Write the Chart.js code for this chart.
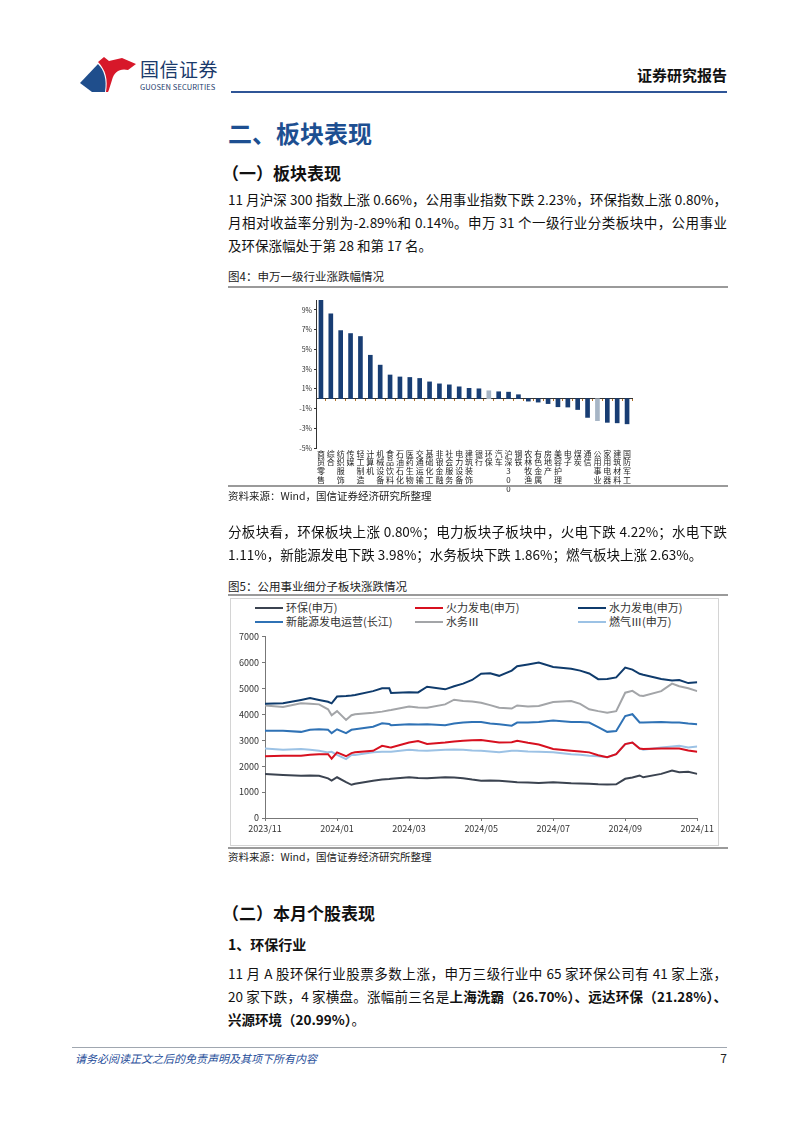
<!DOCTYPE html>
<html lang="zh-CN">
<head>
<meta charset="utf-8">
<title>二、板块表现</title>
<script src="https://cdn.jsdelivr.net/npm/chart.js@4.4.1/dist/chart.umd.min.js"></script>
<style>
  html, body { margin: 0; padding: 0; background: #fff; }
  body { width: 802px; height: 1133px; position: relative; overflow: hidden;
         font-family: "Noto Sans CJK SC", "Noto Sans", sans-serif; color: #111; }
  .abs { position: absolute; }
  .txt { position: absolute; left: 228px; width: 499px; font-size: 13.5px; line-height: 23px; height: 23px; }
  .just { text-align: justify; text-align-last: justify; }
  .cap { position: absolute; left: 228px; font-size: 11.5px; line-height: 14px; color: #222; }
  .src { position: absolute; left: 228px; font-size: 10.5px; line-height: 14px; color: #222; }
  .rule { position: absolute; left: 228px; width: 500px; background: #9a9a9a; }
  .legend-item { position: absolute; font-size: 11px; line-height: 14px; color: #333; white-space: nowrap; }
  .legend-item i { display: inline-block; width: 28px; height: 2.5px; vertical-align: middle; margin-right: 3px; margin-top: -2px; }
</style>
</head>
<body>

<!-- header -->
<svg class="abs" style="left:78px;top:55px" width="62" height="40" viewBox="0 0 62 40">
  <path d="M2 28 L20 9 C26 15 29 24 27 37 L14 37 Z" fill="#1f4e8c"/>
  <path d="M20 7 L26 2 L31 6 L44 3 L58 9 L50 15 C42 13 36 17 34 25 C32 31 31 35 30 37 L28 37 C30 25 28 15 20 7 Z" fill="#d7182a"/>
</svg>
<div class="abs" style="left:140px;top:58px;font-size:19px;line-height:22px;color:#1b3a6b;letter-spacing:0.5px;">国信证券</div>
<div class="abs" style="left:140px;top:82px;font-size:7.5px;line-height:9px;color:#1b3a6b;letter-spacing:0.1px;">GUOSEN SECURITIES</div>
<div class="abs" style="right:75px;top:65px;font-size:15px;line-height:20px;font-weight:bold;color:#111;">证券研究报告</div>
<div class="abs" style="left:231px;top:91px;width:496px;height:2px;background:#2f5597;"></div>

<!-- section 1 -->
<div class="abs" style="left:228px;top:116px;font-size:24px;line-height:34px;font-weight:bold;color:#1d4f91;">二、板块表现</div>
<div class="abs" style="left:222px;top:161px;font-size:17px;line-height:24px;font-weight:bold;">（一）板块表现</div>
<div class="txt just" style="top:187.5px">11 月沪深 300 指数上涨 0.66%，公用事业指数下跌 2.23%，环保指数上涨 0.80%，</div>
<div class="txt just" style="top:210.5px">月相对收益率分别为-2.89%和 0.14%。申万 31 个一级行业分类板块中，公用事业</div>
<div class="txt" style="top:233.5px">及环保涨幅处于第 28 和第 17 名。</div>

<div class="cap" style="top:269px">图4：申万一级行业涨跌幅情况</div>
<div class="rule" style="top:286px;height:2px"></div>
<div class="abs" style="left:290px;top:293px;width:350px;height:205px;">
  <canvas id="barChart"></canvas>
</div>
<div class="rule" style="top:485px;height:1.5px"></div>
<div class="src" style="top:489px">资料来源：Wind，国信证券经济研究所整理</div>

<div class="txt just" style="top:519.5px">分板块看，环保板块上涨 0.80%；电力板块子板块中，火电下跌 4.22%；水电下跌</div>
<div class="txt" style="top:542.5px">1.11%，新能源发电下跌 3.98%；水务板块下跌 1.86%；燃气板块上涨 2.63%。</div>

<div class="cap" style="top:579px">图5：公用事业细分子板块涨跌情况</div>
<div class="rule" style="top:594px;height:2px"></div>
<div class="abs" style="left:230px;top:598px;width:487px;height:246px;border:1px solid #d4d4d4;"></div>
<div id="lineLegend"></div>
<div class="abs" style="left:232px;top:628px;width:484px;height:214px;">
  <canvas id="lineChart"></canvas>
</div>
<div class="rule" style="top:847px;height:1.5px"></div>
<div class="src" style="top:850px">资料来源：Wind，国信证券经济研究所整理</div>

<!-- section 2 -->
<div class="abs" style="left:222px;top:901px;font-size:17px;line-height:24px;font-weight:bold;">（二）本月个股表现</div>
<div class="abs" style="left:228px;top:933px;font-size:14px;line-height:22px;font-weight:bold;">1、环保行业</div>
<div class="txt just" style="top:961.5px">11 月 A 股环保行业股票多数上涨，申万三级行业中 65 家环保公司有 41 家上涨，</div>
<div class="txt just" style="top:984.5px">20 家下跌，4 家横盘。涨幅前三名是<b>上海洗霸（26.70%）、远达环保（21.28%）、</b></div>
<div class="txt" style="top:1007.5px"><b>兴源环境（20.99%）</b>。</div>

<!-- footer -->
<div class="abs" style="left:72px;top:1047px;width:655px;height:1px;background:#a0a7b0;"></div>
<div class="abs" style="left:75px;top:1051px;font-size:11px;line-height:14px;font-style:italic;color:#1f4e9a;">请务必阅读正文之后的免责声明及其项下所有内容</div>
<div class="abs" style="right:75px;top:1050px;font-size:12px;line-height:16px;color:#222;">7</div>

<script>
// ---- 图4 申万一级行业涨跌幅 (%) ----
const industries = ["商贸零售", "综合", "纺织服饰", "传媒", "轻工制造", "计算机", "机械设备", "食品饮料",
  "石油石化", "医药生物", "交通运输", "基础化工", "非银金融", "社会服务", "电力设备", "建筑装饰",
  "银行", "环保", "汽车", "沪深300", "钢铁", "农林牧渔", "有色金属", "房地产", "美容护理", "电子",
  "煤炭", "通信", "公用事业", "家用电器", "建筑材料", "国防军工"];
const changes = [10.0, 8.6, 6.9, 6.6, 6.3, 4.4, 3.4, 2.4, 2.2, 2.15, 2.05, 1.7, 1.5, 1.4, 1.2, 1.05,
  1.0, 0.80, 0.7, 0.66, 0.4, -0.25, -0.35, -0.5, -0.82, -0.85, -1.1, -1.9, -2.23, -2.4, -2.45, -2.55];
const highlighted = ["环保", "公用事业"];
const barTicks = [-5, -3, -1, 1, 3, 5, 7, 9];

// ---- 图5 公用事业细分子板块指数 ----
// x: months since 2023/11
const monthPos = [0, 0.5, 1, 1.25, 1.5, 1.75, 1.85, 2, 2.25, 2.4, 2.5, 3, 3.25, 3.45, 3.5, 4, 4.25, 4.5,
  5, 5.25, 5.5, 5.75, 6, 6.25, 6.5, 6.85, 7, 7.3, 7.6, 8, 8.5, 8.75, 9, 9.25, 9.5, 9.75, 10, 10.2,
  10.4, 10.5, 11, 11.3, 11.5, 11.75, 12];
const dateTicks = ["2023/11", "2024/01", "2024/03", "2024/05", "2024/07", "2024/09", "2024/11"];
const huanbao = [1700, 1660, 1630, 1640, 1630, 1530, 1440, 1570, 1380, 1280, 1320, 1440, 1480, 1500, 1510,
  1570, 1540, 1530, 1570, 1560, 1530, 1480, 1440, 1450, 1440, 1400, 1380, 1370, 1350, 1380, 1340, 1330,
  1320, 1300, 1290, 1300, 1510, 1560, 1640, 1570, 1700, 1830, 1760, 1780, 1700];
const huoli = [2380, 2400, 2400, 2440, 2460, 2460, 2290, 2530, 2380, 2500, 2530, 2590, 2780, 2730, 2720,
  2910, 2970, 2850, 2910, 2950, 2980, 3000, 3010, 2960, 2910, 2920, 2980, 2900, 2830, 2660, 2590, 2560,
  2530, 2420, 2340, 2460, 2850, 2910, 2680, 2660, 2680, 2680, 2680, 2600, 2550];
const shuili = [4400, 4420, 4550, 4620, 4550, 4480, 4420, 4680, 4700, 4720, 4740, 4890, 5000, 5000, 4820,
  4850, 4840, 5060, 4960, 5080, 5180, 5320, 5560, 5580, 5480, 5680, 5850, 5920, 5990, 5820, 5750, 5680,
  5570, 5350, 5360, 5420, 5800, 5720, 5560, 5520, 5360, 5300, 5320, 5200, 5230];
const xinnengyuan = [3360, 3360, 3320, 3400, 3420, 3400, 3270, 3420, 3270, 3400, 3420, 3520, 3650, 3620, 3580,
  3610, 3600, 3610, 3580, 3640, 3680, 3700, 3700, 3640, 3610, 3560, 3680, 3680, 3700, 3760, 3700, 3700,
  3680, 3500, 3320, 3350, 3930, 4000, 3680, 3680, 3700, 3680, 3680, 3640, 3610];
const shuiwu = [4340, 4280, 4420, 4400, 4380, 4190, 3960, 4120, 3780, 3960, 4000, 4060, 4100, 4150, 4160,
  4300, 4260, 4250, 4380, 4560, 4510, 4490, 4440, 4350, 4250, 4220, 4340, 4300, 4320, 4470, 4510, 4400,
  4190, 4120, 4060, 4120, 4830, 4900, 4720, 4700, 4890, 5180, 5080, 5000, 4890];
const ranqi = [2680, 2630, 2660, 2630, 2590, 2530, 2550, 2430, 2270, 2430, 2430, 2530, 2550, 2550, 2550,
  2630, 2600, 2590, 2630, 2640, 2630, 2600, 2590, 2560, 2530, 2590, 2590, 2560, 2550, 2530, 2460, 2440,
  2400, 2380, 2340, 2460, 2850, 2910, 2680, 2630, 2720, 2760, 2780, 2720, 2760];

const seriesNames = ["环保(申万)", "火力发电(申万)", "水力发电(申万)", "新能源发电运营(长江)", "水务Ⅲ", "燃气Ⅲ(申万)"];
const seriesValues = [huanbao, huoli, shuili, xinnengyuan, shuiwu, ranqi];
const seriesColors = ["#3b4350", "#d7101f", "#0f3b6c", "#2f72b5", "#a3a5a8", "#9cc2e5"];

const FONT = '"Noto Sans CJK SC", "Noto Sans", sans-serif';
Chart.defaults.font.family = FONT;
Chart.defaults.animation = false;

// bar chart
new Chart(document.getElementById("barChart"), {
  type: "bar",
  data: {
    labels: industries.map((n) => n === "沪深300" ? ["沪", "深", "3", "0", "0"] : n.split("")),
    datasets: [{
      data: changes,
      backgroundColor: industries.map((n) => highlighted.includes(n) ? "#a7b5c5" : "#183d73"),
      barThickness: 4,
    }],
  },
  options: {
    responsive: true,
    maintainAspectRatio: false,
    layout: { padding: { top: 7, right: 8, bottom: 4, left: 0 } },
    plugins: { legend: { display: false }, tooltip: { enabled: false } },
    scales: {
      x: {
        grid: { display: false, drawTicks: false },
        border: { display: false },
        ticks: { autoSkip: false, maxRotation: 0, minRotation: 0, padding: 1, color: "#222",
                 font: { size: 8, lineHeight: 1.12 } },
        afterFit: (s) => { s.height = 46; },
      },
      x0: {
        type: "category",
        position: { y: 0 },
        grid: { drawOnChartArea: false, tickLength: 2, color: "#b0702a", offset: true },
        border: { color: "#333", width: 1 },
        ticks: { display: false },
      },
      y: {
        min: -5,
        max: 10,
        afterBuildTicks: (s) => { s.ticks = barTicks.map((v) => ({ value: v })); },
        afterFit: (s) => { s.width = 26; },
        grid: { drawOnChartArea: false, tickLength: 2, color: "#333" },
        border: { color: "#333" },
        ticks: { color: "#333", font: { size: 7 }, padding: 2, callback: (v) => v + "%" },
      },
    },
  },
});

// line chart
const lineChart = new Chart(document.getElementById("lineChart"), {
  type: "line",
  data: {
    datasets: seriesNames.map((name, i) => ({
      label: name,
      data: monthPos.map((m, k) => ({ x: m, y: seriesValues[i][k] })),
      borderColor: seriesColors[i],
      backgroundColor: seriesColors[i],
      borderWidth: 2,
      pointRadius: 0,
      tension: 0,
    })),
  },
  options: {
    responsive: true,
    maintainAspectRatio: false,
    layout: { padding: { top: 4, right: 17, bottom: 0, left: 0 } },
    plugins: { legend: { display: false }, tooltip: { enabled: false } },
    scales: {
      x: {
        type: "linear",
        min: 0,
        max: 12,
        afterBuildTicks: (s) => { s.ticks = dateTicks.map((t, i) => ({ value: i * 2 })); },
        afterFit: (s) => { s.height = 24; },
        grid: { drawOnChartArea: false, tickLength: 3, color: "#777" },
        border: { color: "#777" },
        ticks: { color: "#333", font: { size: 9 }, padding: 2, maxRotation: 0,
                 callback: (v) => dateTicks[v / 2] },
      },
      y: {
        min: 0,
        max: 7000,
        ticks: { stepSize: 1000, color: "#333", font: { size: 9 }, padding: 3, callback: (v) => String(v) },
        afterFit: (s) => { s.width = 33; },
        grid: { drawOnChartArea: false, tickLength: 3, color: "#777" },
        border: { color: "#777" },
      },
    },
  },
});

// legend (3 columns x 2 rows) built from the chart's datasets
const legendBox = document.getElementById("lineLegend");
const colX = [255, 415, 578];
const rowY = [600, 614];
lineChart.data.datasets.forEach((ds, i) => {
  const item = document.createElement("div");
  item.className = "legend-item";
  item.style.left = colX[i % 3] + "px";
  item.style.top = rowY[Math.floor(i / 3)] + "px";
  item.innerHTML = '<i style="background:' + ds.borderColor + '"></i>' + ds.label;
  legendBox.appendChild(item);
});
</script>
</body>
</html>
